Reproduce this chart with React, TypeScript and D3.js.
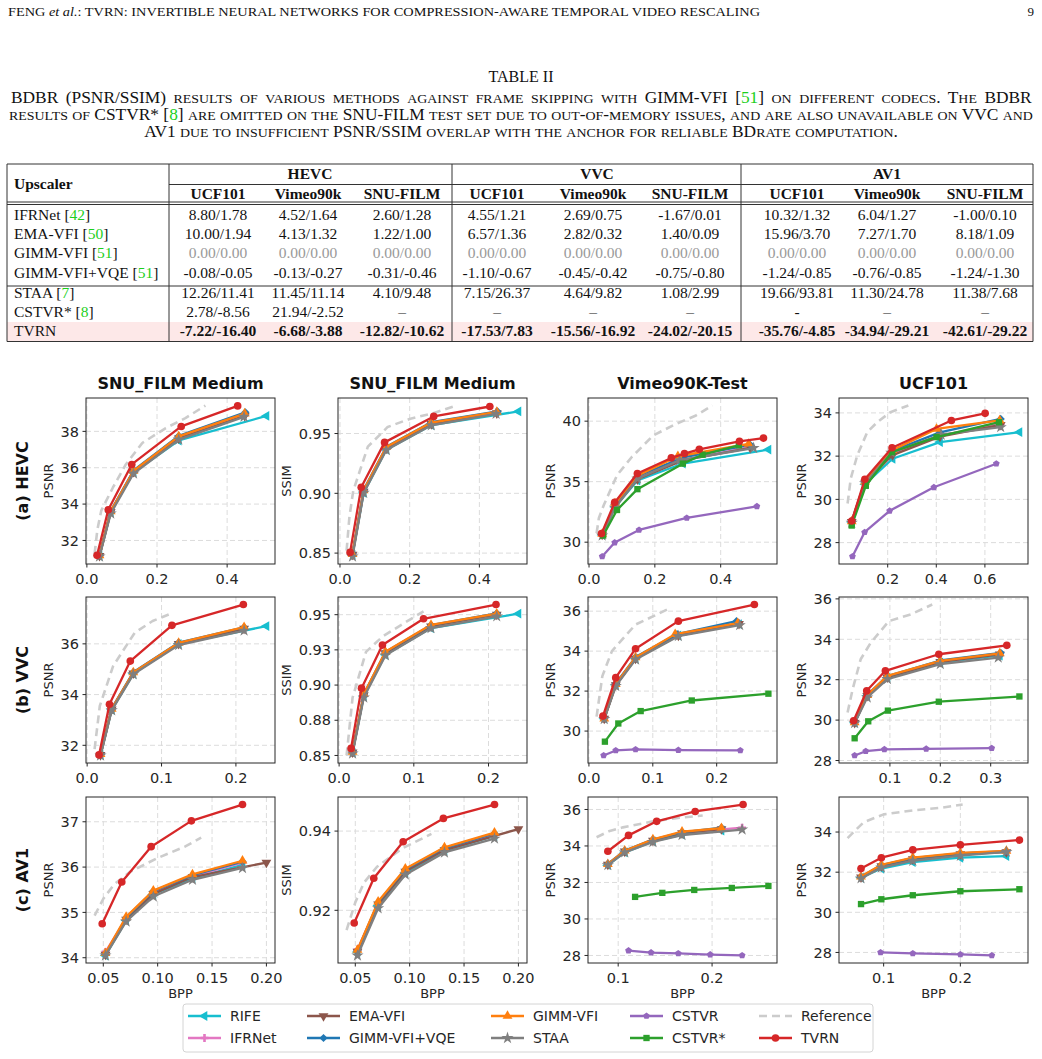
import React, { useEffect, useRef } from 'react';
import * as d3 from 'd3';

type Pt = [number, number];
type Series = Record<string, Pt[]>;

// ---------- table values ----------
const tableMethods = ['IFRNet', 'EMA-VFI', 'GIMM-VFI', 'GIMM-VFI+VQE', 'STAA', 'CSTVR*', 'TVRN'];
const tableCites = ['42', '50', '51', '51', '7', '8', ''];
const codecs = ['HEVC', 'VVC', 'AV1'];
const datasets = ['UCF101', 'Vimeo90k', 'SNU-FILM'];
const bdbrIFRNet = ['8.80/1.78', '4.52/1.64', '2.60/1.28', '4.55/1.21', '2.69/0.75', '-1.67/0.01', '10.32/1.32', '6.04/1.27', '-1.00/0.10'];
const bdbrEMA = ['10.00/1.94', '4.13/1.32', '1.22/1.00', '6.57/1.36', '2.82/0.32', '1.40/0.09', '15.96/3.70', '7.27/1.70', '8.18/1.09'];
const bdbrGIMM = ['0.00/0.00', '0.00/0.00', '0.00/0.00', '0.00/0.00', '0.00/0.00', '0.00/0.00', '0.00/0.00', '0.00/0.00', '0.00/0.00'];
const bdbrVQE = ['-0.08/-0.05', '-0.13/-0.27', '-0.31/-0.46', '-1.10/-0.67', '-0.45/-0.42', '-0.75/-0.80', '-1.24/-0.85', '-0.76/-0.85', '-1.24/-1.30'];
const bdbrSTAA = ['12.26/11.41', '11.45/11.14', '4.10/9.48', '7.15/26.37', '4.64/9.82', '1.08/2.99', '19.66/93.81', '11.30/24.78', '11.38/7.68'];
const bdbrCSTVRs = ['2.78/-8.56', '21.94/-2.52', '–', '–', '–', '–', '-', '–', '–'];
const bdbrTVRN = ['-7.22/-16.40', '-6.68/-3.88', '-12.82/-10.62', '-17.53/7.83', '-15.56/-16.92', '-24.02/-20.15', '-35.76/-4.85', '-34.94/-29.21', '-42.61/-29.22'];
const tableRows = [bdbrIFRNet, bdbrEMA, bdbrGIMM, bdbrVQE, bdbrSTAA, bdbrCSTVRs, bdbrTVRN];

// caption text, split where the citation numbers are coloured
const captionLines = [
  ['BDBR (PSNR/SSIM) results of various methods against frame skipping with GIMM-VFI [', '51', '] on different codecs. The BDBR'],
  ['results of CSTVR* [', '8', '] are omitted on the SNU-FILM test set due to out-of-memory issues, and are also unavailable on VVC and'],
  ['AV1 due to insufficient PSNR/SSIM overlap with the anchor for reliable BDrate computation.'],
];

// ---------- rate-distortion curves (BPP, quality) ----------
const hevcSnuPsnr: Series = {
  RIFE: [[0.036, 31.15], [0.068, 33.55], [0.133, 35.75], [0.262, 37.5], [0.512, 38.85]],
  IFRNet: [[0.036, 31.17], [0.068, 33.6], [0.133, 35.8], [0.262, 37.65], [0.45, 38.9]],
  'EMA-VFI': [[0.036, 31.16], [0.068, 33.57], [0.133, 35.78], [0.262, 37.62], [0.45, 38.85]],
  'GIMM-VFI+VQE': [[0.036, 31.2], [0.068, 33.62], [0.133, 35.85], [0.262, 37.75], [0.452, 39.05]],
  'GIMM-VFI': [[0.036, 31.18], [0.068, 33.6], [0.133, 35.82], [0.262, 37.72], [0.45, 38.98]],
  STAA: [[0.036, 31.12], [0.068, 33.48], [0.133, 35.68], [0.262, 37.55], [0.448, 38.8]],
  Reference: [[0.022, 31.27], [0.03, 32.6], [0.041, 33.64], [0.074, 34.9], [0.111, 36.18], [0.158, 37.36], [0.225, 38.18], [0.281, 38.73], [0.338, 39.42]],
  TVRN: [[0.029, 31.18], [0.061, 33.69], [0.128, 36.18], [0.269, 38.27], [0.43, 39.4]],
};
const hevcSnuSsim: Series = {
  RIFE: [[0.036, 0.8485], [0.068, 0.9005], [0.133, 0.9365], [0.262, 0.957], [0.512, 0.9685]],
  IFRNet: [[0.036, 0.849], [0.068, 0.902], [0.133, 0.938], [0.262, 0.9585], [0.45, 0.9675]],
  'EMA-VFI': [[0.036, 0.8488], [0.068, 0.9015], [0.133, 0.9375], [0.262, 0.958], [0.45, 0.967]],
  'GIMM-VFI+VQE': [[0.036, 0.8495], [0.068, 0.903], [0.133, 0.939], [0.262, 0.9595], [0.452, 0.9685]],
  'GIMM-VFI': [[0.036, 0.8492], [0.068, 0.9025], [0.133, 0.9388], [0.262, 0.9592], [0.45, 0.968]],
  STAA: [[0.036, 0.8472], [0.068, 0.9004], [0.133, 0.9362], [0.262, 0.9569], [0.448, 0.9665]],
  Reference: [[0.019, 0.852], [0.027, 0.88], [0.038, 0.902], [0.08, 0.939], [0.137, 0.9555], [0.202, 0.9624], [0.268, 0.967], [0.334, 0.9734]],
  TVRN: [[0.029, 0.8506], [0.061, 0.905], [0.128, 0.9426], [0.269, 0.9643], [0.43, 0.9726]],
};
const hevcVimeo: Series = {
  RIFE: [[0.04, 30.6], [0.079, 32.9], [0.147, 35.1], [0.285, 36.5], [0.545, 37.65]],
  IFRNet: [[0.04, 30.65], [0.079, 33.0], [0.147, 35.3], [0.285, 36.8], [0.49, 37.85]],
  'EMA-VFI': [[0.04, 30.62], [0.079, 32.95], [0.147, 35.2], [0.285, 36.75], [0.49, 37.8]],
  'GIMM-VFI+VQE': [[0.04, 30.7], [0.079, 33.15], [0.147, 35.45], [0.285, 37.0], [0.49, 38.05]],
  'GIMM-VFI': [[0.04, 30.68], [0.079, 33.2], [0.147, 35.5], [0.27, 37.1], [0.485, 38.12]],
  STAA: [[0.04, 30.55], [0.079, 32.85], [0.147, 35.25], [0.275, 36.77], [0.5, 37.78]],
  CSTVR: [[0.04, 28.82], [0.078, 29.97], [0.152, 31.01], [0.297, 32.0], [0.51, 32.96]],
  'CSTVR*': [[0.043, 30.55], [0.085, 32.66], [0.147, 34.38], [0.285, 36.49], [0.345, 37.23], [0.455, 38.0]],
  Reference: [[0.023, 30.74], [0.03, 32.0], [0.045, 33.07], [0.085, 35.53], [0.13, 37.04], [0.195, 38.82], [0.265, 39.78], [0.325, 40.47], [0.375, 41.29]],
  TVRN: [[0.038, 30.71], [0.078, 33.29], [0.147, 35.67], [0.25, 36.96], [0.29, 37.32], [0.335, 37.67], [0.457, 38.33], [0.53, 38.6]],
};
const hevcUcf: Series = {
  RIFE: [[0.052, 28.95], [0.107, 30.7], [0.22, 31.88], [0.415, 32.65], [0.742, 33.11]],
  IFRNet: [[0.052, 28.98], [0.107, 30.8], [0.22, 32.1], [0.415, 32.95], [0.665, 33.5]],
  'EMA-VFI': [[0.052, 28.96], [0.107, 30.78], [0.22, 32.05], [0.415, 32.9], [0.665, 33.45]],
  'GIMM-VFI+VQE': [[0.052, 29.0], [0.107, 30.85], [0.22, 32.25], [0.415, 33.1], [0.665, 33.72]],
  'GIMM-VFI': [[0.052, 28.98], [0.107, 30.82], [0.22, 32.28], [0.401, 33.26], [0.661, 33.65]],
  STAA: [[0.052, 28.92], [0.107, 30.75], [0.215, 32.16], [0.42, 32.99], [0.665, 33.34]],
  CSTVR: [[0.055, 27.36], [0.105, 28.48], [0.208, 29.47], [0.39, 30.56], [0.647, 31.65]],
  'CSTVR*': [[0.052, 28.79], [0.11, 30.63], [0.218, 32.19], [0.401, 32.88], [0.658, 33.57]],
  Reference: [[0.035, 29.81], [0.048, 30.96], [0.075, 32.04], [0.116, 33.11], [0.157, 33.57], [0.211, 34.03], [0.285, 34.34]],
  TVRN: [[0.052, 29.0], [0.106, 30.93], [0.218, 32.39], [0.462, 33.65], [0.601, 33.98]],
};
const vvcSnuPsnr: Series = {
  RIFE: [[0.018, 31.62], [0.033, 33.4], [0.062, 34.82], [0.123, 36.0], [0.241, 36.7]],
  IFRNet: [[0.018, 31.64], [0.033, 33.45], [0.062, 34.86], [0.123, 36.03], [0.211, 36.62]],
  'EMA-VFI': [[0.018, 31.62], [0.033, 33.42], [0.062, 34.84], [0.123, 36.0], [0.211, 36.6]],
  'GIMM-VFI+VQE': [[0.018, 31.66], [0.033, 33.45], [0.062, 34.88], [0.123, 36.05], [0.211, 36.65]],
  'GIMM-VFI': [[0.018, 31.65], [0.033, 33.44], [0.062, 34.87], [0.123, 36.04], [0.211, 36.66]],
  STAA: [[0.018, 31.6], [0.033, 33.38], [0.062, 34.8], [0.123, 35.95], [0.211, 36.52]],
  Reference: [[0.01, 31.85], [0.017, 33.55], [0.035, 35.13], [0.064, 36.44], [0.088, 36.9], [0.11, 37.16]],
  TVRN: [[0.016, 31.62], [0.03, 33.62], [0.058, 35.32], [0.114, 36.73], [0.21, 37.55]],
};
const vvcSnuSsim: Series = {
  RIFE: [[0.018, 0.852], [0.033, 0.892], [0.062, 0.9215], [0.123, 0.9405], [0.24, 0.9507]],
  IFRNet: [[0.018, 0.8525], [0.033, 0.893], [0.062, 0.923], [0.123, 0.942], [0.211, 0.9505]],
  'EMA-VFI': [[0.018, 0.8522], [0.033, 0.8928], [0.062, 0.9228], [0.123, 0.9418], [0.211, 0.95]],
  'GIMM-VFI+VQE': [[0.018, 0.853], [0.033, 0.8935], [0.062, 0.9235], [0.123, 0.9425], [0.211, 0.951]],
  'GIMM-VFI': [[0.018, 0.8526], [0.033, 0.8935], [0.062, 0.9236], [0.123, 0.9428], [0.211, 0.9507]],
  STAA: [[0.018, 0.8514], [0.033, 0.8911], [0.062, 0.9211], [0.123, 0.9404], [0.211, 0.9488]],
  Reference: [[0.01, 0.85], [0.018, 0.891], [0.036, 0.9236], [0.058, 0.9344], [0.087, 0.944], [0.113, 0.9524]],
  TVRN: [[0.016, 0.855], [0.03, 0.8978], [0.058, 0.9284], [0.113, 0.9471], [0.21, 0.9572]],
};
const vvcVimeo: Series = {
  RIFE: [[0.024, 30.62], [0.042, 32.3], [0.073, 33.62], [0.14, 34.78], [0.235, 35.35]],
  IFRNet: [[0.024, 30.64], [0.042, 32.32], [0.073, 33.65], [0.14, 34.8], [0.235, 35.38]],
  'EMA-VFI': [[0.024, 30.62], [0.042, 32.3], [0.073, 33.63], [0.14, 34.78], [0.235, 35.36]],
  'GIMM-VFI+VQE': [[0.024, 30.67], [0.042, 32.38], [0.073, 33.7], [0.138, 34.85], [0.231, 35.5]],
  'GIMM-VFI': [[0.024, 30.62], [0.042, 32.35], [0.073, 33.68], [0.135, 34.85], [0.233, 35.4]],
  STAA: [[0.024, 30.6], [0.042, 32.25], [0.073, 33.58], [0.14, 34.75], [0.236, 35.3]],
  CSTVR: [[0.023, 28.78], [0.042, 29.03], [0.073, 29.08], [0.14, 29.05], [0.237, 29.03]],
  'CSTVR*': [[0.025, 29.47], [0.046, 30.38], [0.081, 31.0], [0.161, 31.53], [0.281, 31.87]],
  Reference: [[0.012, 30.72], [0.021, 32.75], [0.036, 34.0], [0.073, 35.33], [0.101, 35.75], [0.125, 36.12]],
  TVRN: [[0.022, 30.75], [0.042, 32.67], [0.073, 34.12], [0.14, 35.5], [0.259, 36.33]],
};
const vvcUcf: Series = {
  RIFE: [[0.03, 29.87], [0.055, 31.2], [0.095, 32.1], [0.2, 32.85], [0.318, 33.2]],
  IFRNet: [[0.03, 29.88], [0.055, 31.22], [0.095, 32.15], [0.2, 32.9], [0.318, 33.28]],
  'EMA-VFI': [[0.03, 29.87], [0.055, 31.2], [0.095, 32.12], [0.2, 32.88], [0.318, 33.25]],
  'GIMM-VFI+VQE': [[0.03, 29.9], [0.055, 31.25], [0.095, 32.18], [0.2, 32.95], [0.32, 33.33]],
  'GIMM-VFI': [[0.03, 29.89], [0.055, 31.24], [0.095, 32.19], [0.2, 32.93], [0.318, 33.3]],
  STAA: [[0.03, 29.85], [0.055, 31.12], [0.095, 32.03], [0.2, 32.77], [0.315, 33.09]],
  CSTVR: [[0.03, 28.25], [0.052, 28.46], [0.089, 28.55], [0.172, 28.58], [0.302, 28.61]],
  'CSTVR*': [[0.03, 29.1], [0.057, 29.94], [0.096, 30.47], [0.197, 30.91], [0.357, 31.17]],
  Reference: [[0.016, 30.38], [0.026, 31.53], [0.042, 33.01], [0.062, 33.83], [0.098, 34.9], [0.141, 35.23], [0.184, 35.72]],
  TVRN: [[0.028, 29.97], [0.054, 31.45], [0.091, 32.44], [0.197, 33.26], [0.332, 33.7]],
};
const av1SnuPsnr: Series = {
  RIFE: [[0.052, 34.05], [0.071, 34.82], [0.096, 35.4], [0.132, 35.75], [0.178, 36.05]],
  IFRNet: [[0.052, 34.13], [0.071, 34.86], [0.096, 35.43], [0.132, 35.8], [0.178, 36.1]],
  'EMA-VFI': [[0.052, 34.07], [0.071, 34.84], [0.096, 35.41], [0.132, 35.78], [0.2, 36.1]],
  'GIMM-VFI+VQE': [[0.052, 34.08], [0.071, 34.88], [0.096, 35.47], [0.132, 35.82], [0.178, 36.12]],
  'GIMM-VFI': [[0.052, 34.1], [0.071, 34.9], [0.096, 35.48], [0.132, 35.84], [0.178, 36.14]],
  STAA: [[0.052, 34.05], [0.071, 34.8], [0.096, 35.35], [0.132, 35.72], [0.178, 35.98]],
  Reference: [[0.042, 34.93], [0.05, 35.3], [0.06, 35.62], [0.075, 35.9], [0.1, 36.2], [0.125, 36.45], [0.14, 36.65]],
  TVRN: [[0.049, 34.75], [0.067, 35.67], [0.094, 36.45], [0.131, 37.02], [0.178, 37.38]],
};
const av1SnuSsim: Series = {
  RIFE: [[0.052, 0.9095], [0.071, 0.9212], [0.096, 0.9295], [0.132, 0.935], [0.178, 0.9388]],
  IFRNet: [[0.052, 0.9101], [0.071, 0.9217], [0.096, 0.9299], [0.132, 0.9353], [0.178, 0.939]],
  'EMA-VFI': [[0.052, 0.9096], [0.071, 0.9215], [0.096, 0.9298], [0.132, 0.9352], [0.2, 0.9405]],
  'GIMM-VFI+VQE': [[0.052, 0.9098], [0.071, 0.922], [0.096, 0.9303], [0.132, 0.9357], [0.178, 0.9394]],
  'GIMM-VFI': [[0.052, 0.91], [0.071, 0.9222], [0.096, 0.9305], [0.132, 0.9359], [0.178, 0.9396]],
  STAA: [[0.052, 0.9086], [0.071, 0.9205], [0.096, 0.929], [0.132, 0.9346], [0.178, 0.9381]],
  Reference: [[0.042, 0.915], [0.05, 0.922], [0.058, 0.927], [0.07, 0.931], [0.093, 0.9356], [0.12, 0.9393]],
  TVRN: [[0.049, 0.9168], [0.067, 0.9281], [0.094, 0.9373], [0.131, 0.9432], [0.178, 0.9467]],
};
const av1Vimeo: Series = {
  RIFE: [[0.089, 32.95], [0.107, 33.65], [0.137, 34.25], [0.168, 34.62], [0.21, 34.85]],
  IFRNet: [[0.089, 33.0], [0.107, 33.72], [0.137, 34.32], [0.168, 34.72], [0.232, 35.0]],
  'EMA-VFI': [[0.089, 32.98], [0.107, 33.7], [0.137, 34.3], [0.168, 34.7], [0.21, 34.92]],
  'GIMM-VFI+VQE': [[0.089, 33.02], [0.107, 33.75], [0.137, 34.35], [0.168, 34.75], [0.21, 35.0]],
  'GIMM-VFI': [[0.089, 33.0], [0.107, 33.74], [0.137, 34.36], [0.168, 34.78], [0.21, 34.98]],
  STAA: [[0.089, 32.95], [0.107, 33.65], [0.137, 34.22], [0.168, 34.6], [0.232, 34.9]],
  CSTVR: [[0.111, 28.27], [0.135, 28.16], [0.164, 28.11], [0.198, 28.05], [0.232, 28.0]],
  'CSTVR*': [[0.118, 31.21], [0.147, 31.43], [0.181, 31.59], [0.221, 31.7], [0.26, 31.81]],
  Reference: [[0.077, 34.48], [0.09, 34.8], [0.105, 35.02], [0.137, 35.35], [0.168, 35.56], [0.19, 35.67]],
  TVRN: [[0.089, 33.71], [0.111, 34.58], [0.141, 35.35], [0.182, 35.89], [0.233, 36.27]],
};
const av1Ucf: Series = {
  RIFE: [[0.0705, 31.72], [0.097, 32.18], [0.138, 32.5], [0.2, 32.72], [0.26, 32.8]],
  IFRNet: [[0.0705, 31.76], [0.097, 32.33], [0.138, 32.68], [0.2, 32.92], [0.26, 33.02]],
  'EMA-VFI': [[0.0705, 31.74], [0.097, 32.3], [0.138, 32.65], [0.2, 32.9], [0.26, 33.0]],
  'GIMM-VFI+VQE': [[0.0705, 31.77], [0.097, 32.35], [0.138, 32.7], [0.2, 32.94], [0.26, 33.05]],
  'GIMM-VFI': [[0.0705, 31.78], [0.097, 32.37], [0.138, 32.72], [0.2, 32.96], [0.26, 33.06]],
  STAA: [[0.0705, 31.69], [0.097, 32.23], [0.138, 32.57], [0.2, 32.82], [0.26, 33.01]],
  CSTVR: [[0.096, 28.0], [0.138, 27.95], [0.2, 27.9], [0.241, 27.85]],
  'CSTVR*': [[0.0705, 30.41], [0.097, 30.65], [0.138, 30.85], [0.2, 31.05], [0.277, 31.15]],
  Reference: [[0.053, 33.7], [0.074, 34.49], [0.1, 34.88], [0.138, 35.08], [0.177, 35.22], [0.203, 35.37]],
  TVRN: [[0.0705, 32.18], [0.097, 32.72], [0.138, 33.11], [0.2, 33.36], [0.277, 33.6]],
};

const colTitles = ['SNU_FILM Medium', 'SNU_FILM Medium', 'Vimeo90K-Test', 'UCF101'];
const rowTitles = ['(a) HEVC', '(b) VVC', '(c) AV1'];
const legendOrder = ['RIFE', 'IFRNet', 'EMA-VFI', 'GIMM-VFI+VQE', 'GIMM-VFI', 'STAA', 'CSTVR', 'CSTVR*', 'Reference', 'TVRN'];

const panels = [
  { row: 0, col: 0, data: hevcSnuPsnr, ylabel: 'PSNR', xTicks: [0, 0.2, 0.4], xf: '.1f', yTicks: [32, 34, 36, 38], yf: 'd' },
  { row: 0, col: 1, data: hevcSnuSsim, ylabel: 'SSIM', xTicks: [0, 0.2, 0.4], xf: '.1f', yTicks: [0.85, 0.9, 0.95], yf: '.2f' },
  { row: 0, col: 2, data: hevcVimeo, ylabel: 'PSNR', xTicks: [0, 0.2, 0.4], xf: '.1f', yTicks: [30, 35, 40], yf: 'd' },
  { row: 0, col: 3, data: hevcUcf, ylabel: 'PSNR', xTicks: [0.2, 0.4, 0.6], xf: '.1f', yTicks: [28, 30, 32, 34], yf: 'd' },
  { row: 1, col: 0, data: vvcSnuPsnr, ylabel: 'PSNR', xTicks: [0, 0.1, 0.2], xf: '.1f', yTicks: [32, 34, 36], yf: 'd' },
  { row: 1, col: 1, data: vvcSnuSsim, ylabel: 'SSIM', xTicks: [0, 0.1, 0.2], xf: '.1f', yTicks: [0.85, 0.875, 0.9, 0.925, 0.95], yf: '.2f' },
  { row: 1, col: 2, data: vvcVimeo, ylabel: 'PSNR', xTicks: [0, 0.1, 0.2], xf: '.1f', yTicks: [30, 32, 34, 36], yf: 'd' },
  { row: 1, col: 3, data: vvcUcf, ylabel: 'PSNR', xTicks: [0.1, 0.2, 0.3], xf: '.1f', yTicks: [28, 30, 32, 34, 36], yf: 'd' },
  { row: 2, col: 0, data: av1SnuPsnr, ylabel: 'PSNR', xTicks: [0.05, 0.1, 0.15, 0.2], xf: '.2f', yTicks: [34, 35, 36, 37], yf: 'd' },
  { row: 2, col: 1, data: av1SnuSsim, ylabel: 'SSIM', xTicks: [0.05, 0.1, 0.15, 0.2], xf: '.2f', yTicks: [0.92, 0.94], yf: '.2f' },
  { row: 2, col: 2, data: av1Vimeo, ylabel: 'PSNR', xTicks: [0.1, 0.2], xf: '.1f', yTicks: [28, 30, 32, 34, 36], yf: 'd' },
  { row: 2, col: 3, data: av1Ucf, ylabel: 'PSNR', xTicks: [0.1, 0.2], xf: '.1f', yTicks: [28, 30, 32, 34], yf: 'd' },
];

// ---------- styling ----------
const serif = '"Liberation Serif", "Times New Roman", serif';
const sans = '"DejaVu Sans", sans-serif';
const citeGreen = '#1ccf1c';
const styles: Record<string, { color: string; marker: string; rot?: number; size: number }> = {
  RIFE: { color: '#17becf', marker: 'tri', rot: -90, size: 42 },
  IFRNet: { color: '#e377c2', marker: 'cross', size: 34 },
  'EMA-VFI': { color: '#8c564b', marker: 'tri', rot: 180, size: 42 },
  'GIMM-VFI+VQE': { color: '#1f77b4', marker: 'square', rot: 45, size: 34 },
  'GIMM-VFI': { color: '#ff7f0e', marker: 'tri', rot: 0, size: 42 },
  STAA: { color: '#7f7f7f', marker: 'star', size: 46 },
  CSTVR: { color: '#9467bd', marker: 'penta', size: 30 },
  'CSTVR*': { color: '#2ca02c', marker: 'square', rot: 0, size: 40 },
  Reference: { color: '#cccccc', marker: 'none', size: 0 },
  TVRN: { color: '#d62728', marker: 'circle', size: 46 },
};

const colLeft = [86, 338, 588, 839];
const rowTop = [398, 597, 797];
const axW = 189;
const axH = 166;

function markerPath(kind: string, size: number) {
  if (kind === 'circle') return d3.symbol(d3.symbolCircle, size)();
  if (kind === 'tri') return d3.symbol(d3.symbolTriangle, size)();
  if (kind === 'square') return d3.symbol(d3.symbolSquare, size)();
  if (kind === 'star') return d3.symbol(d3.symbolStar, size)();
  if (kind === 'cross') return d3.symbol(d3.symbolCross, size)();
  if (kind === 'penta') {
    const r = Math.sqrt(size / 2.38);
    const pts = d3.range(5).map(k => {
      const a = -Math.PI / 2 + (k * 2 * Math.PI) / 5;
      return [r * Math.cos(a), r * Math.sin(a)];
    });
    return 'M' + pts.map(p => p.join(',')).join('L') + 'Z';
  }
  return '';
}

// rough DejaVu Sans advance widths for tick labels
function labelWidth(s: string, fs: number) {
  let w = 0;
  for (const ch of s) w += ch === '.' ? 0.318 : ch === '-' ? 0.361 : 0.636;
  return w * fs;
}

function drawPanel(root: any, p: any) {
  const left = colLeft[p.col];
  const top = rowTop[p.row];
  const pts: Pt[] = (Object.values(p.data) as Pt[][]).flat();
  const [x0, x1] = d3.extent(pts, d => d[0]) as [number, number];
  const [y0, y1] = d3.extent(pts, d => d[1]) as [number, number];
  // 5% padding around the data, same as matplotlib's default margins
  const xs = d3.scaleLinear().domain([x0 - 0.05 * (x1 - x0), x1 + 0.05 * (x1 - x0)]).range([left, left + axW]);
  const ys = d3.scaleLinear().domain([y0 - 0.05 * (y1 - y0), y1 + 0.05 * (y1 - y0)]).range([top + axH, top]);
  const xt = p.xTicks.filter((t: number) => t >= xs.domain()[0] && t <= xs.domain()[1]);
  const yt = p.yTicks.filter((t: number) => t >= ys.domain()[0] && t <= ys.domain()[1]);
  const fs = 14.5;

  const g = root.append('g');
  g.selectAll('.gx').data(xt).enter().append('line')
    .attr('x1', (d: number) => xs(d)).attr('x2', (d: number) => xs(d))
    .attr('y1', top).attr('y2', top + axH)
    .attr('stroke', '#dcdcdc').attr('stroke-width', 1).attr('stroke-dasharray', '5,3');
  g.selectAll('.gy').data(yt).enter().append('line')
    .attr('x1', left).attr('x2', left + axW)
    .attr('y1', (d: number) => ys(d)).attr('y2', (d: number) => ys(d))
    .attr('stroke', '#dcdcdc').attr('stroke-width', 1).attr('stroke-dasharray', '5,3');

  const line = d3.line<Pt>().x(d => xs(d[0])).y(d => ys(d[1]));
  legendOrder.forEach(name => {
    const d = p.data[name];
    if (!d) return;
    const st = styles[name];
    const isRef = name === 'Reference';
    g.append('path')
      .attr('d', line(d))
      .attr('fill', 'none')
      .attr('stroke', st.color)
      .attr('stroke-width', isRef ? 2.6 : 2.3)
      .attr('stroke-linejoin', 'round')
      .attr('stroke-dasharray', isRef ? '8,5' : null);
    if (isRef) return;
    g.selectAll(null).data(d).enter().append('path')
      .attr('d', markerPath(st.marker, st.size))
      .attr('transform', (q: Pt) => `translate(${xs(q[0])},${ys(q[1])}) rotate(${st.rot || 0})`)
      .attr('fill', st.color);
  });

  g.append('rect').attr('x', left).attr('y', top).attr('width', axW).attr('height', axH)
    .attr('fill', 'none').attr('stroke', '#262626').attr('stroke-width', 1);

  const xFmt = d3.format(p.xf);
  const yFmt = d3.format(p.yf);
  xt.forEach((t: number) => {
    g.append('line').attr('x1', xs(t)).attr('x2', xs(t)).attr('y1', top + axH).attr('y2', top + axH + 3.5)
      .attr('stroke', '#262626');
    g.append('text').attr('x', xs(t)).attr('y', top + axH + 19.5).attr('text-anchor', 'middle')
      .attr('font-family', sans).attr('font-size', fs).attr('fill', '#262626').text(xFmt(t));
  });
  let maxW = 0;
  yt.forEach((t: number) => {
    const s = yFmt(t);
    maxW = Math.max(maxW, labelWidth(s, fs));
    g.append('line').attr('x1', left - 3.5).attr('x2', left).attr('y1', ys(t)).attr('y2', ys(t))
      .attr('stroke', '#262626');
    g.append('text').attr('x', left - 7).attr('y', ys(t)).attr('dy', '0.36em').attr('text-anchor', 'end')
      .attr('font-family', sans).attr('font-size', fs).attr('fill', '#262626').text(s);
  });
  const lx = left - 7 - maxW - 8;
  g.append('text').attr('transform', `translate(${lx},${top + axH / 2}) rotate(-90)`)
    .attr('text-anchor', 'middle').attr('font-family', sans).attr('font-size', 13).attr('fill', '#262626')
    .text(p.ylabel);

  if (p.row === 0) {
    g.append('text').attr('x', left + axW / 2).attr('y', top - 9).attr('text-anchor', 'middle')
      .attr('font-family', sans).attr('font-size', 16).attr('font-weight', 'bold').attr('fill', '#111')
      .text(colTitles[p.col]);
  }
  if (p.row === 2) {
    g.append('text').attr('x', left + axW / 2).attr('y', top + axH + 35).attr('text-anchor', 'middle')
      .attr('font-family', sans).attr('font-size', 13).attr('fill', '#262626').text('BPP');
  }
  if (p.col === 0) {
    g.append('text').attr('transform', `translate(22,${top + axH / 2}) rotate(-90)`)
      .attr('text-anchor', 'middle').attr('dominant-baseline', 'central')
      .attr('font-family', sans).attr('font-size', 16).attr('font-weight', 'bold').attr('fill', '#111')
      .text(rowTitles[p.row]);
  }
}

function drawLegend(root: any) {
  const g = root.append('g');
  g.append('rect').attr('x', 183).attr('y', 1004).attr('width', 690).attr('height', 48).attr('rx', 3)
    .attr('fill', '#fff').attr('stroke', '#d4d4d4');
  const colX = [188, 307, 491, 630, 759];
  const rowY = [1016, 1038];
  legendOrder.forEach((name, i) => {
    const c = Math.floor(i / 2);
    const r = i % 2;
    const st = styles[name];
    const hx = colX[c];
    const hy = rowY[r];
    g.append('line').attr('x1', hx).attr('x2', hx + 33).attr('y1', hy).attr('y2', hy)
      .attr('stroke', st.color).attr('stroke-width', 2.6)
      .attr('stroke-dasharray', name === 'Reference' ? '8,5' : null);
    if (st.marker !== 'none') {
      g.append('path').attr('d', markerPath(st.marker, st.size))
        .attr('transform', `translate(${hx + 16.5},${hy}) rotate(${st.rot || 0})`).attr('fill', st.color);
    }
    g.append('text').attr('x', hx + 42).attr('y', hy).attr('dy', '0.36em')
      .attr('font-family', sans).attr('font-size', 14).attr('fill', '#262626').text(name);
  });
}

// ---------- table layout ----------
const sepX = [7, 169, 452, 741, 1033];
const cellX = [218, 308, 402, 497, 593, 690, 797, 887, 985];
const groupX = [310, 597, 887];
const rowBase = [220, 239, 258, 277.5, 297.5, 316.5, 336];

function Table() {
  const fs = 15.5;
  const ln = { stroke: '#333', strokeWidth: 1 };
  return (
    <g fontFamily={serif} fontSize={fs} fill="#111">
      <rect x={7} y={322} width={1026} height={19.5} fill="#fde8e8" />
      <line x1={7} x2={1033} y1={164} y2={164} {...ln} />
      <line x1={169} x2={1033} y1={184.5} y2={184.5} {...ln} />
      <line x1={7} x2={1033} y1={202} y2={202} {...ln} />
      <line x1={7} x2={1033} y1={204.5} y2={204.5} {...ln} />
      <line x1={7} x2={1033} y1={286} y2={286} {...ln} />
      <line x1={7} x2={1033} y1={341.5} y2={341.5} {...ln} />
      {sepX.map(x => <line key={x} x1={x} x2={x} y1={164} y2={341.5} {...ln} />)}
      <text x={14} y={189} fontWeight="bold">Upscaler</text>
      {codecs.map((c, i) => (
        <text key={c} x={groupX[i]} y={179} textAnchor="middle" fontWeight="bold">{c}</text>
      ))}
      {cellX.map((x, i) => (
        <text key={'h' + i} x={x} y={198.5} textAnchor="middle" fontWeight="bold">{datasets[i % 3]}</text>
      ))}
      {tableMethods.map((m, r) => (
        <g key={m}>
          <text x={14} y={rowBase[r]}>
            {m}
            {tableCites[r] ? (
              <>
                {' ['}
                <tspan fill={citeGreen}>{tableCites[r]}</tspan>
                {']'}
              </>
            ) : null}
          </text>
          {tableRows[r].map((v, c) => (
            <text key={c} x={cellX[c]} y={rowBase[r]} textAnchor="middle"
              fill={m === 'GIMM-VFI' ? '#9a9a9a' : '#111'}
              fontWeight={m === 'TVRN' ? 'bold' : 'normal'}>{v}</text>
          ))}
        </g>
      ))}
    </g>
  );
}

// small caps: lower-case runs drawn as smaller capitals
const capFs = 16;
function smallCaps(s: string, fill: string, key: string) {
  return s.split(/([a-z]+)/).filter(Boolean).map((run, i) =>
    /^[a-z]+$/.test(run)
      ? <tspan key={key + i} fill={fill} fontSize={capFs * 0.8}>{run.toUpperCase()}</tspan>
      : <tspan key={key + i} fill={fill} fontSize={capFs}>{run}</tspan>
  );
}

// caption lines: [anchor x, target width]
const captionBox = [[11, 1021], [9, 1024], [521, 754]];
const captionY = [103, 120, 137];

function Caption({ capRef }: { capRef: any }) {
  return (
    <g fontFamily={serif} fill="#111">
      <text x={8} y={16} fontSize={13} textLength={752} lengthAdjust="spacingAndGlyphs">
        FENG <tspan fontStyle="italic">et al.</tspan>: TVRN: INVERTIBLE NEURAL NETWORKS FOR COMPRESSION-AWARE TEMPORAL VIDEO RESCALING
      </text>
      <text x={1034} y={16} fontSize={13} textAnchor="end">9</text>
      <text x={521} y={82} fontSize={16} textAnchor="middle">TABLE II</text>
      <g ref={capRef}>
        {captionLines.map((segs, i) => (
          <text key={i} className="capline" x={0} y={captionY[i]} textAnchor={i === 2 ? 'middle' : 'start'}
            transform={`translate(${captionBox[i][0]},0)`}>
            {segs.map((s, j) => smallCaps(s, j === 1 ? citeGreen : '#111', `${i}-${j}-`))}
          </text>
        ))}
      </g>
    </g>
  );
}

export default function App() {
  const plotRef = useRef<SVGGElement>(null);
  const capRef = useRef<SVGGElement>(null);

  useEffect(() => {
    const root = d3.select(plotRef.current);
    root.selectAll('*').remove();
    panels.forEach(p => drawPanel(root, p));
    drawLegend(root);

    // fit the last caption line to its width, then justify the first two with word spacing
    const lines = d3.select(capRef.current).selectAll('text.capline').nodes() as SVGTextElement[];
    const widths = lines.map(n => n.getComputedTextLength());
    const k = captionBox[2][1] / widths[2];
    lines.forEach((n, i) => {
      n.setAttribute('transform', `translate(${captionBox[i][0]},0) scale(${k},1)`);
      if (i < 2) {
        const spaces = ((n.textContent || '').trim().match(/ /g) || []).length;
        n.style.wordSpacing = `${(captionBox[i][1] / k - widths[i]) / spaces}px`;
      }
    });
  }, []);

  return (
    <svg width={1042} height={1059} style={{ position: 'absolute', left: 0, top: 0, background: '#fff' }}>
      <rect width={1042} height={1059} fill="#fff" />
      <Caption capRef={capRef} />
      <Table />
      <g ref={plotRef} />
    </svg>
  );
}
